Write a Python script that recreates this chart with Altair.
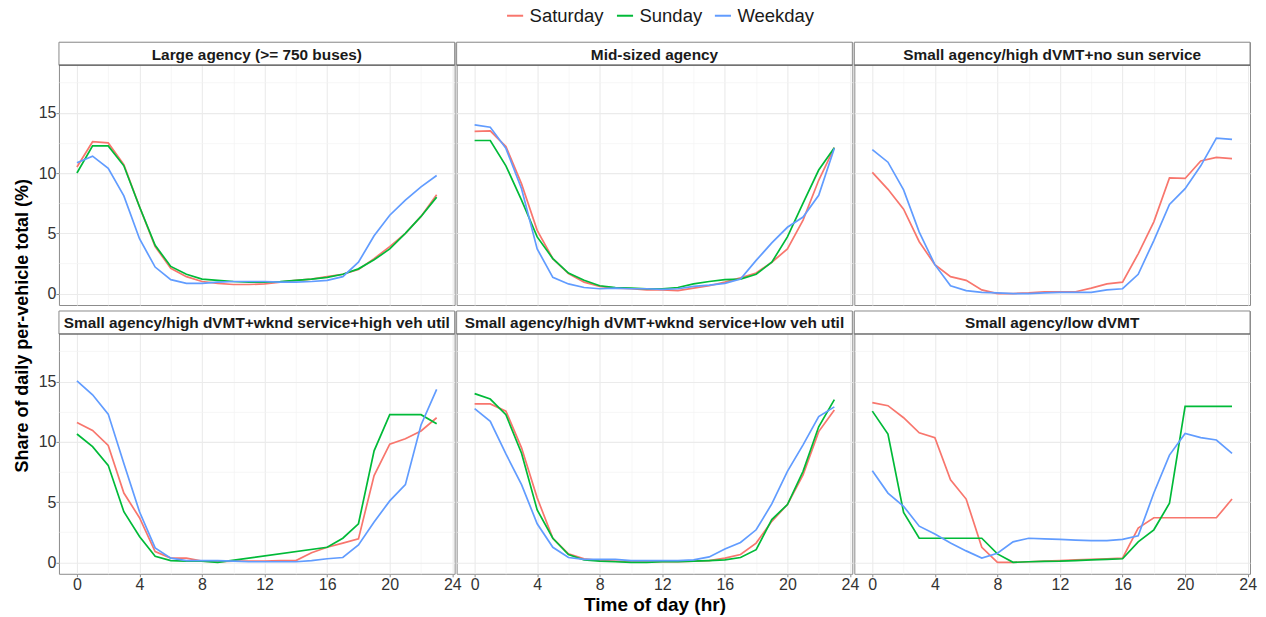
import altair as alt
import pandas as pd

FONT = "Liberation Sans"

hours = list(range(24))
panels = [
    "Large agency (>= 750 buses)",
    "Mid-sized agency",
    "Small agency/high dVMT+no sun service",
    "Small agency/high dVMT+wknd service+high veh util",
    "Small agency/high dVMT+wknd service+low veh util",
    "Small agency/low dVMT",
]
days = ["Saturday", "Sunday", "Weekday"]
colors = ["#F8766D", "#00BA38", "#619CFF"]

# ---- Large agency
large_sat = [10.5, 12.6, 12.5, 10.7, 7.2, 3.9, 2.1, 1.4, 1.0, 0.85, 0.75, 0.75,
             0.8, 0.95, 1.1, 1.2, 1.4, 1.6, 2.0, 2.9, 3.9, 5.0, 6.4, 8.2]
large_sun = [10.0, 12.25, 12.25, 10.6, 7.2, 4.0, 2.25, 1.6, 1.2, 1.1, 1.0, 0.95,
             0.95, 1.0, 1.1, 1.2, 1.35, 1.6, 2.05, 2.8, 3.7, 5.0, 6.4, 8.0]
large_wkd = [10.85, 11.4, 10.4, 8.1, 4.55, 2.2, 1.15, 0.85, 0.85, 0.95, 1.0, 1.0,
             1.0, 0.95, 0.95, 1.0, 1.1, 1.4, 2.6, 4.8, 6.5, 7.75, 8.85, 9.8]
# ---- Mid-sized agency
mid_sat = [13.45, 13.5, 12.2, 9.1, 5.25, 2.9, 1.65, 0.95, 0.6, 0.45, 0.4, 0.3,
           0.3, 0.25, 0.45, 0.65, 0.95, 1.3, 1.7, 2.6, 3.7, 6.1, 9.4, 12.1]
mid_sun = [12.7, 12.7, 10.6, 7.75, 4.7, 2.9, 1.7, 1.1, 0.65, 0.5, 0.45, 0.4,
           0.4, 0.5, 0.8, 1.0, 1.15, 1.2, 1.6, 2.6, 4.7, 7.5, 10.25, 12.1]
mid_wkd = [14.0, 13.8, 12.05, 8.7, 3.7, 1.35, 0.8, 0.5, 0.4, 0.45, 0.4, 0.4,
           0.35, 0.4, 0.6, 0.7, 0.85, 1.2, 2.75, 4.2, 5.5, 6.35, 8.15, 12.05]
# ---- Small agency/high dVMT+no sun service (no Sunday service)
nosun_sat = [10.05, 8.65, 7.0, 4.3, 2.4, 1.4, 1.1, 0.3, 0.0, 0.0, 0.05, 0.15,
             0.15, 0.15, 0.45, 0.8, 0.95, 3.3, 5.95, 9.6, 9.55, 11.0, 11.3, 11.2]
nosun_wkd = [11.95, 10.9, 8.6, 5.1, 2.4, 0.65, 0.25, 0.1, 0.05, 0.0, 0.0, 0.05,
             0.1, 0.1, 0.1, 0.3, 0.4, 1.6, 4.4, 7.4, 8.7, 10.6, 12.9, 12.8]
# ---- Small agency/high dVMT+wknd service+high veh util
high_sat = [11.6, 10.95, 9.7, 5.75, 3.7, 0.9, 0.35, 0.35, 0.1, 0.05, 0.1, 0.1,
            0.1, 0.15, 0.15, 0.8, 1.25, 1.6, 1.95, 7.2, 9.8, 10.25, 10.9, 12.0]
high_sun = [10.65, 9.6, 8.05, 4.2, 2.15, 0.5, 0.15, 0.1, 0.1, 0.0, None, None,
            None, None, None, None, 1.25, 2.0, 3.2, 9.25, 12.25, 12.25, 12.25, 11.5]
high_wkd = [15.05, 13.9, 12.3, 8.2, 4.2, 1.2, 0.35, 0.15, 0.15, 0.15, 0.1, 0.05,
            0.05, 0.05, 0.05, 0.15, 0.3, 0.4, 1.45, 3.35, 5.1, 6.45, 11.4, 14.35]
# ---- Small agency/high dVMT+wknd service+low veh util
low_sat = [13.15, 13.15, 12.55, 9.5, 5.35, 2.0, 0.7, 0.3, 0.15, 0.1, 0.05, 0.05,
           0.05, 0.05, 0.1, 0.15, 0.35, 0.65, 1.6, 3.4, 4.8, 7.25, 10.85, 12.65]
low_sun = [14.0, 13.55, 12.25, 9.05, 4.35, 2.0, 0.65, 0.2, 0.1, 0.05, 0.0, 0.0,
           0.05, 0.05, 0.1, 0.15, 0.2, 0.4, 1.05, 3.55, 4.8, 7.55, 11.25, 13.5]
low_wkd = [12.75, 11.7, 9.0, 6.45, 3.2, 1.25, 0.4, 0.25, 0.25, 0.25, 0.15, 0.15,
           0.15, 0.15, 0.2, 0.45, 1.1, 1.65, 2.7, 4.85, 7.55, 9.75, 12.1, 12.9]
# ---- Small agency/low dVMT
ldv_sat = [13.25, 13.0, 12.0, 10.75, 10.35, 6.85, 5.25, 1.25, 0.0, 0.0, 0.05, 0.1,
           0.15, 0.2, 0.25, 0.3, 0.35, 2.85, 3.7, 3.7, 3.7, 3.7, 3.7, 5.25]
ldv_sun = [12.55, 10.65, 4.15, 2.0, 2.0, 2.0, 2.0, 2.0, 0.7, 0.0, 0.05, 0.08,
           0.1, 0.15, 0.2, 0.25, 0.3, 1.7, 2.7, 4.9, 12.95, 12.95, 12.95, 12.95]
ldv_wkd = [7.6, 5.75, 4.65, 3.0, 2.35, 1.6, 0.95, 0.35, 0.75, 1.7, 2.0, 1.95,
           1.9, 1.85, 1.8, 1.8, 1.9, 2.2, 5.75, 8.9, 10.7, 10.35, 10.15, 9.05]

series = {
    (panels[0], "Saturday"): large_sat, (panels[0], "Sunday"): large_sun, (panels[0], "Weekday"): large_wkd,
    (panels[1], "Saturday"): mid_sat, (panels[1], "Sunday"): mid_sun, (panels[1], "Weekday"): mid_wkd,
    (panels[2], "Saturday"): nosun_sat, (panels[2], "Weekday"): nosun_wkd,
    (panels[3], "Saturday"): high_sat, (panels[3], "Sunday"): high_sun, (panels[3], "Weekday"): high_wkd,
    (panels[4], "Saturday"): low_sat, (panels[4], "Sunday"): low_sun, (panels[4], "Weekday"): low_wkd,
    (panels[5], "Saturday"): ldv_sat, (panels[5], "Sunday"): ldv_sun, (panels[5], "Weekday"): ldv_wkd,
}

rows = []
for (p, d), vals in series.items():
    for h, v in zip(hours, vals):
        if v is not None:
            rows.append({"panel": p, "day": d, "hour": h, "value": v})
df = pd.DataFrame(rows)

# panel geometry: plot area 240 px tall for [-0.95, 18.95]; a 23 px strip sits on top
W, PH, SH = 396, 240, 23
H = PH + SH
y_lo, y_hi0 = -0.95, 18.95
y_hi = y_hi0 + (y_hi0 - y_lo) * SH / PH
xs = alt.Scale(domain=[-1.15, 24.15], nice=False, zero=False)
ys = alt.Scale(domain=[y_lo, y_hi], nice=False, zero=False)
legend = alt.Legend(orient="none", legendX=447, legendY=-36, direction="horizontal",
                    title=None, symbolType="stroke", symbolStrokeWidth=2, symbolSize=260,
                    labelFontSize=18.5, labelFont=FONT, labelColor="#1A1A1A", columnPadding=8,
                    labelOffset=5)


def panel(name, show_x, show_y, x_title=None):
    base = alt.Chart(df).transform_filter(alt.datum.panel == name)
    minor = base.mark_line(strokeOpacity=0).encode(
        x=alt.X("hour:Q", scale=xs, axis=alt.Axis(values=[2, 6, 10, 14, 18, 22], labels=False, ticks=False,
                                                  domain=False, title=None, grid=True, gridColor="#F3F3F3",
                                                  gridWidth=0.7, orient="bottom")),
        y=alt.Y("value:Q", scale=ys, axis=alt.Axis(values=[2.5, 7.5, 12.5, 17.5], labels=False, ticks=False,
                                                   domain=False, title=None, grid=True, gridColor="#F3F3F3",
                                                   gridWidth=0.7, orient="left")),
        detail="day:N",
    )
    xaxis = dict(values=[0, 4, 8, 12, 16, 20, 24], labels=show_x, ticks=show_x, domain=False,
                 grid=True, gridColor="#EBEBEB", gridWidth=1.1, orient="bottom",
                 title=x_title if x_title else None)
    main = base.mark_line(strokeWidth=1.7).encode(
        x=alt.X("hour:Q", scale=xs, axis=alt.Axis(**xaxis)),
        y=alt.Y("value:Q", scale=ys, axis=alt.Axis(values=[0, 5, 10, 15], labels=show_y, ticks=show_y,
                                                   domain=False, title=None, grid=True, gridColor="#EBEBEB",
                                                   gridWidth=1.1, orient="left")),
        color=alt.Color("day:N", scale=alt.Scale(domain=days, range=colors), legend=legend),
    )
    lab = pd.DataFrame({"label": [name]})
    strip_box = alt.Chart(lab).mark_rect(fill="#FFFFFF", stroke="#8C8C8C", strokeWidth=1).encode(
        x=alt.value(0), x2=alt.value(W), y=alt.value(0), y2=alt.value(SH))
    strip_line = alt.Chart(lab).mark_rule(color="#5E5E5E", strokeWidth=1.2).encode(
        x=alt.value(0), x2=alt.value(W), y=alt.value(SH))
    strip_text = alt.Chart(lab).mark_text(font=FONT, fontSize=15.4, fontWeight="bold", color="#1A1A1A").encode(
        text="label:N", x=alt.value(W / 2), y=alt.value(SH / 2 + 1))
    return alt.layer(minor, main, strip_box, strip_line, strip_text).resolve_axis(
        x="independent", y="independent").properties(width=W, height=H)


charts = [panel(n, i >= 3, i % 3 == 0, "Time of day (hr)" if i == 4 else None) for i, n in enumerate(panels)]

chart = alt.concat(*charts, columns=3, spacing={"row": 6, "column": 2}, bounds="flush").properties(
    title=alt.TitleParams("Share of daily per-vehicle total (%)", orient="left", anchor="middle",
                          font=FONT, fontSize=18, fontWeight="bold", color="#000000", offset=6, dx=-15),
    padding={"left": 13, "top": 6, "right": 8, "bottom": 2},
).configure_view(stroke="#8C8C8C", strokeWidth=1).configure_axis(
    labelFont=FONT, labelFontSize=16, labelColor="#333333", tickColor="#8C8C8C", tickSize=3,
    labelPadding=0, titleFont=FONT, titleFontSize=19, titleFontWeight="bold", titleColor="#000000",
    titlePadding=3,
)

chart.save("out.html", embed_options={"renderer": "svg", "actions": False})
